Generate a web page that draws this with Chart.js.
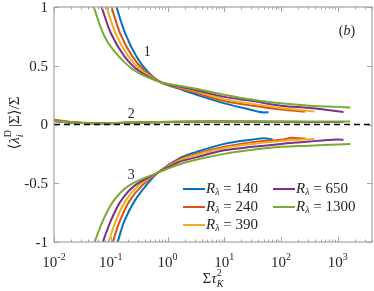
<!DOCTYPE html>
<html>
<head>
<meta charset="utf-8">
<script src="https://cdn.jsdelivr.net/npm/chart.js@4"></script>
<style>
  body { margin: 0; background: #fff; }
  #wrap { width: 374px; height: 291px; }
</style>
</head>
<body>
<div id="wrap"><canvas id="chart" width="374" height="291"></canvas></div>
<script>
// Reynolds numbers and MATLAB default colours
const reLabels = ['140', '240', '390', '650', '1300'];
const colors = ['#0072BD', '#D95319', '#EDB120', '#7E2F8E', '#77AC30'];

// eigenvalue 1 (upper branch)
const c1_140 = [[0.112,1.08],[0.126,1.0],[0.178,0.78],[0.282,0.58],[0.447,0.45],[0.759,0.36],[1.58,0.305],[3.16,0.255],[10,0.18],[31.6,0.122],[39.8,0.108],[50.1,0.103],[60.3,0.105]];
const c1_240 = [[0.0933,1.065],[0.1028,1.0],[0.148,0.77],[0.24,0.58],[0.398,0.455],[0.759,0.36],[1.58,0.31],[3.16,0.27],[10,0.2],[31.6,0.16],[100,0.128],[269,0.11]];
const c1_390 = [[0.0759,1.07],[0.0841,1.0],[0.123,0.77],[0.204,0.58],[0.355,0.455],[0.759,0.36],[1.58,0.318],[3.16,0.282],[10,0.215],[31.6,0.175],[100,0.14],[316,0.115],[389,0.11]];
const c1_650 = [[0.0617,1.07],[0.0689,1.0],[0.102,0.77],[0.174,0.58],[0.316,0.455],[0.759,0.36],[1.58,0.323],[3.16,0.292],[10,0.235],[31.6,0.2],[100,0.16],[316,0.14],[1000,0.113],[1259,0.105]];
const c1_1300 = [[0.0437,1.077],[0.05,1.0],[0.0794,0.74],[0.141,0.575],[0.282,0.45],[0.759,0.36],[1.58,0.33],[3.16,0.305],[10,0.253],[31.6,0.21],[100,0.18],[316,0.16],[1000,0.15],[1660,0.145]];

// eigenvalue 2 (near zero)
const c2_140 = [[0.01,0.03],[0.02,0.016],[0.05,0.01],[0.2,0.015],[1,0.022],[10,0.024],[60.3,0.022]];
const c2_240 = [[0.01,0.04],[0.02,0.022],[0.05,0.012],[0.2,0.015],[1,0.022],[10,0.024],[100,0.022],[269,0.02]];
const c2_390 = [[0.01,0.033],[0.02,0.018],[0.05,0.011],[0.2,0.015],[1,0.022],[10,0.025],[100,0.023],[389,0.021]];
const c2_650 = [[0.01,0.03],[0.02,0.016],[0.05,0.01],[0.2,0.015],[1,0.022],[10,0.025],[100,0.023],[1259,0.021]];
const c2_1300 = [[0.01,0.03],[0.02,0.016],[0.05,0.01],[0.2,0.016],[1,0.023],[10,0.026],[100,0.025],[1660,0.025]];

// eigenvalue 3 (lower branch)
const c3_140 = [[0.1202,-1.07],[0.1324,-1.0],[0.174,-0.82],[0.263,-0.65],[0.417,-0.52],[0.676,-0.41],[1.58,-0.29],[3.16,-0.235],[10,-0.165],[31.6,-0.128],[50.1,-0.117],[70.8,-0.128]];
const c3_240 = [[0.1,-1.06],[0.1084,-1.0],[0.145,-0.82],[0.214,-0.65],[0.355,-0.52],[0.676,-0.41],[1.58,-0.3],[3.16,-0.25],[10,-0.19],[31.6,-0.15],[100,-0.13],[158,-0.112],[200,-0.118],[269,-0.12]];
const c3_390 = [[0.0832,-1.06],[0.0912,-1.0],[0.123,-0.82],[0.182,-0.65],[0.309,-0.52],[0.676,-0.41],[1.58,-0.31],[3.16,-0.26],[10,-0.2],[31.6,-0.165],[100,-0.14],[316,-0.125],[389,-0.125]];
const c3_650 = [[0.0646,-1.06],[0.0724,-1.0],[0.1,-0.82],[0.151,-0.65],[0.263,-0.52],[0.676,-0.41],[1.58,-0.32],[3.16,-0.28],[10,-0.22],[31.6,-0.19],[100,-0.165],[316,-0.145],[1000,-0.128],[1259,-0.13]];
const c3_1300 = [[0.0468,-1.06],[0.052,-1.0],[0.0724,-0.82],[0.112,-0.65],[0.209,-0.52],[0.676,-0.41],[1.58,-0.34],[3.16,-0.3],[10,-0.25],[31.6,-0.215],[100,-0.19],[316,-0.18],[1000,-0.17],[1660,-0.165]];

const branches = [
  [c1_140, c1_240, c1_390, c1_650, c1_1300],
  [c2_140, c2_240, c2_390, c2_650, c2_1300],
  [c3_140, c3_240, c3_390, c3_650, c3_1300]
];

const xTicks = [-2, -1, 0, 1, 2, 3];
const yTicks = [-1, -0.5, 0, 0.5, 1];
const yTickLabels = ['-1', '-0.5', '0', '0.5', '1'];

const SERIF = '"Liberation Serif", "DejaVu Serif", serif';
const AXIS_GRAY = '#a3a3a3';

let datasets = [];
branches.forEach(branch => {
  branch.forEach((pts, i) => {
    datasets.push({
      data: pts.map(p => ({ x: p[0], y: p[1] })),
      borderColor: colors[i],
      borderWidth: 2,
      pointRadius: 0,
      tension: 0.35,
      order: 5 - i   // green on top, like matlab plot order
    });
  });
});
datasets.push({
  data: [{ x: 0.01, y: 0 }, { x: 4000, y: 0 }],
  borderColor: '#000',
  borderWidth: 1.5,
  borderDash: [6, 4],
  pointRadius: 0,
  order: 0
});

// draws a row of text pieces (for sub/superscripts)
function drawPieces(ctx, pieces, x, y, align) {
  let total = 0;
  pieces.forEach(p => {
    ctx.font = p.f;
    p.w = ctx.measureText(p.t).width;
    if (p.adv !== false) total += p.w;
  });
  let cx = align === 'center' ? x - total / 2 : (align === 'right' ? x - total : x);
  ctx.textAlign = 'left';
  pieces.forEach(p => {
    ctx.font = p.f;
    ctx.fillText(p.t, cx, y + (p.dy || 0));
    if (p.adv !== false) cx += p.w;
  });
}

const decorations = {
  id: 'decorations',
  afterDatasetsDraw(chart) {
    const ctx = chart.ctx;
    const a = chart.chartArea;
    const xs = chart.scales.x, ys = chart.scales.y;
    ctx.save();

    // frame
    ctx.strokeStyle = AXIS_GRAY;
    ctx.lineWidth = 1.2;
    ctx.strokeRect(a.left, a.top, a.right - a.left, a.bottom - a.top);

    // x ticks, inward, bottom and top
    ctx.lineWidth = 1;
    ctx.beginPath();
    xTicks.forEach(k => {
      for (let m = 1; m <= 9; m++) {
        const v = m * Math.pow(10, k);
        if (v > xs.max) break;
        const px = Math.round(xs.getPixelForValue(v)) + 0.5;
        const len = m === 1 ? 5 : 2.5;
        ctx.moveTo(px, a.bottom); ctx.lineTo(px, a.bottom - len);
        ctx.moveTo(px, a.top); ctx.lineTo(px, a.top + len);
      }
    });
    yTicks.forEach(v => {
      const py = Math.round(ys.getPixelForValue(v)) + 0.5;
      ctx.moveTo(a.left, py); ctx.lineTo(a.left + 5, py);
      ctx.moveTo(a.right, py); ctx.lineTo(a.right - 5, py);
    });
    ctx.stroke();

    // tick labels
    ctx.fillStyle = '#262626';
    ctx.textBaseline = 'alphabetic';
    xTicks.forEach(k => {
      const px = xs.getPixelForValue(Math.pow(10, k));
      drawPieces(ctx, [
        { t: '10', f: '15px ' + SERIF },
        { t: String(k), f: '10px ' + SERIF, dy: -7 }
      ], px, 267, 'center');
    });
    ctx.textBaseline = 'middle';
    ctx.textAlign = 'right';
    ctx.font = '15px ' + SERIF;
    yTicks.forEach((v, i) => {
      ctx.fillText(yTickLabels[i], a.left - 6, ys.getPixelForValue(v) + 1);
    });

    // axis titles
    ctx.textBaseline = 'alphabetic';
    drawPieces(ctx, [
      { t: 'Σ', f: '15px ' + SERIF },
      { t: 'τ', f: 'italic 15px ' + SERIF },
      { t: '2', f: '10px ' + SERIF, dy: -7, adv: false },
      { t: 'K', f: 'italic 10px ' + SERIF, dy: 4 }
    ], 213, 283, 'center');

    ctx.save();
    ctx.translate(19, 123);
    ctx.rotate(-Math.PI / 2);
    drawPieces(ctx, [
      { t: '⟨', f: '15px ' + SERIF },
      { t: 'λ', f: 'italic 15px ' + SERIF },
      { t: 'D', f: '10px ' + SERIF, dy: -8, adv: false },
      { t: 'i', f: 'italic 10px ' + SERIF, dy: 4 },
      { t: '  |Σ⟩/Σ', f: '15px ' + SERIF }
    ], 0, 0, 'center');
    ctx.restore();

    // branch numbers and panel tag
    ctx.font = '14px ' + SERIF;
    ctx.textAlign = 'center';
    ctx.textBaseline = 'middle';
    ctx.fillText('1', xs.getPixelForValue(0.44), ys.getPixelForValue(0.61));
    ctx.fillText('2', xs.getPixelForValue(0.23), ys.getPixelForValue(0.085));
    ctx.fillText('3', xs.getPixelForValue(0.23), ys.getPixelForValue(-0.43));
    drawPieces(ctx, [
      { t: '(', f: '14px ' + SERIF },
      { t: 'b', f: 'italic 14px ' + SERIF },
      { t: ')', f: '14px ' + SERIF }
    ], 347, 31, 'center');

    // legend
    const cols = [183, 273], rows = [189, 207, 225];
    const slots = [[0, 0], [0, 1], [0, 2], [1, 0], [1, 1]];
    ctx.textBaseline = 'middle';
    slots.forEach((s, i) => {
      const lx = cols[s[0]], ly = rows[s[1]];
      ctx.strokeStyle = colors[i];
      ctx.lineWidth = 2;
      ctx.beginPath();
      ctx.moveTo(lx, ly); ctx.lineTo(lx + 22, ly);
      ctx.stroke();
      drawPieces(ctx, [
        { t: 'R', f: 'italic 15px ' + SERIF },
        { t: 'λ', f: 'italic 10px ' + SERIF, dy: 3 },
        { t: ' = ' + reLabels[i], f: '15px ' + SERIF }
      ], lx + 23, ly, 'left');
    });

    ctx.restore();
  }
};

new Chart(document.getElementById('chart'), {
  type: 'line',
  data: { datasets: datasets },
  options: {
    responsive: false,
    animation: false,
    events: [],
    layout: { padding: { left: 54, right: 2, top: 7, bottom: 49 } },
    scales: {
      x: { type: 'logarithmic', min: 0.01, max: 4000, display: false },
      y: { type: 'linear', min: -1, max: 1, display: false }
    },
    plugins: { legend: { display: false }, tooltip: { enabled: false } }
  },
  plugins: [decorations]
});
</script>
</body>
</html>
